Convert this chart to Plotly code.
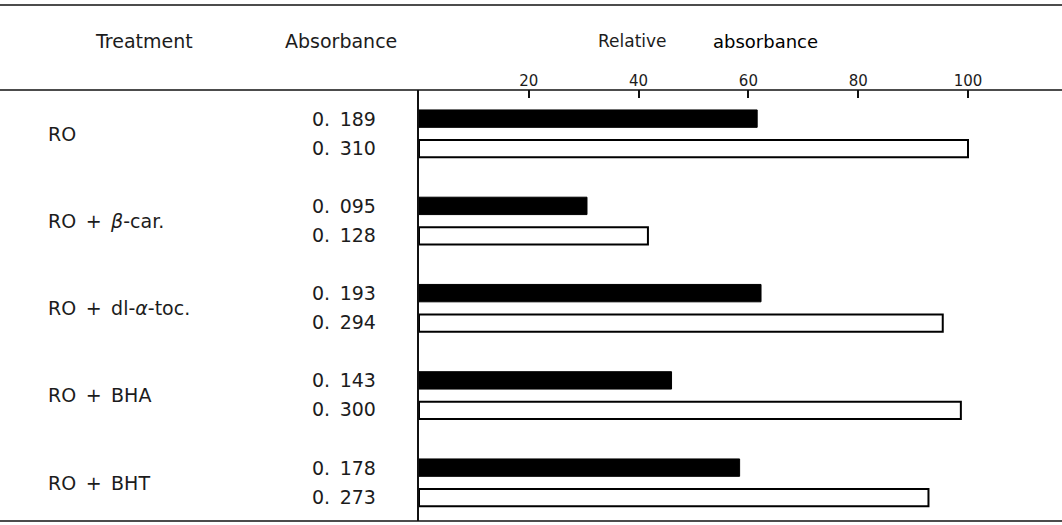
import plotly.graph_objects as go

treatments = ["RO", "RO\u2002+\u2002<i>β</i>-car.", "RO\u2002+\u2002dl-<i>α</i>-toc.",
              "RO\u2002+\u2002BHA", "RO\u2002+\u2002BHT"]
abs_black = ["0.\u2002189", "0.\u2002095", "0.\u2002193", "0.\u2002143", "0.\u2002178"]
abs_white = ["0.\u2002310", "0.\u2002128", "0.\u2002294", "0.\u2002300", "0.\u2002273"]
rel_black = [61.6, 30.6, 62.3, 46.0, 58.4]
rel_white = [100.0, 41.7, 95.4, 98.7, 92.8]
tick_vals = [20, 40, 60, 80, 100]

W, H = 1062, 525
FONT = "DejaVu Sans"
TXT = "#1c1c1c"
AX0 = 419          # pixel of the value axis origin
PXU = 5.49         # pixels per unit
TOP, BOT = 90, 521  # header rule and bottom rule

fig = go.Figure()
fig.add_trace(go.Bar(y=treatments, x=rel_black, orientation="h",
                     marker=dict(color="black", line=dict(color="black", width=1)),
                     hoverinfo="skip", showlegend=False))
fig.add_trace(go.Bar(y=treatments, x=rel_white, orientation="h",
                     marker=dict(color="white", line=dict(color="black", width=2)),
                     hoverinfo="skip", showlegend=False))

fig.update_layout(
    width=W, height=H,
    margin=dict(l=0, r=0, t=0, b=0),
    paper_bgcolor="white", plot_bgcolor="white",
    barmode="group", bargap=0.313, bargroupgap=0.42,
    font=dict(family=FONT, size=18, color=TXT),
    xaxis=dict(domain=[AX0 / W, 1], range=[0, (W - AX0) / PXU], side="top",
               tickvals=tick_vals, ticks="inside", ticklen=8, tickwidth=1.5,
               tickcolor="#111", showgrid=False, zeroline=False, showline=False,
               tickfont=dict(size=15, color=TXT)),
    yaxis=dict(domain=[(H - BOT) / H, (H - TOP) / H], range=[4.44, -0.5],
               showticklabels=False, ticks="", showgrid=False, zeroline=False,
               showline=True, linecolor="#111", linewidth=2),
)

# table rules
for yy in [5, TOP, BOT]:
    fig.add_shape(type="line", xref="paper", yref="paper", x0=0, x1=1,
                  y0=1 - yy / H, y1=1 - yy / H, line=dict(color="#111", width=1.6))

def hdr(text, xc, size, color=TXT):
    fig.add_annotation(text=text, xref="paper", yref="paper", x=xc / W, y=1 - 41 / H,
                       xanchor="center", yanchor="middle", showarrow=False,
                       font=dict(size=size, color=color))

hdr("Treatment", 144, 19)
hdr("Absorbance", 341, 19)
hdr("Relative", 632, 17)
hdr("absorbance", 765, 18, "#000")

for i, t in enumerate(treatments):
    fig.add_annotation(text=t, xref="paper", yref="y", x=46 / W, y=i, xanchor="left",
                       yanchor="middle", yshift=0, showarrow=False,
                       font=dict(size=19, color=TXT))
    fig.add_annotation(text=abs_black[i], xref="paper", yref="y", x=378 / W, y=i,
                       xanchor="right", yanchor="middle", yshift=15, showarrow=False,
                       font=dict(size=19, color=TXT))
    fig.add_annotation(text=abs_white[i], xref="paper", yref="y", x=378 / W, y=i,
                       xanchor="right", yanchor="middle", yshift=-14, showarrow=False,
                       font=dict(size=19, color=TXT))

fig.write_html("out.html", config={"displayModeBar": False},
               post_script="document.body.style.margin='0';document.body.style.overflow='hidden';")
